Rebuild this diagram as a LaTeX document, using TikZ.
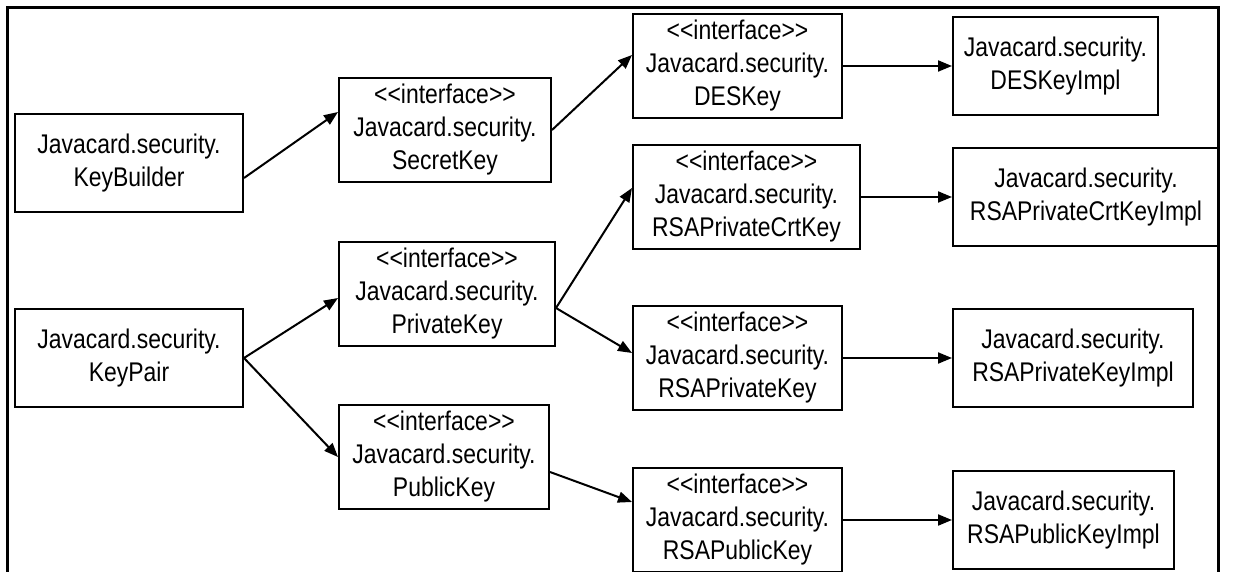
\documentclass[tikz,border=0pt]{standalone}
\usepackage{fontspec}
\setmainfont{Liberation Sans}[FakeStretch=0.85, Ligatures=TeXOff]
\usetikzlibrary{arrows.meta,positioning}

\begin{document}
\begin{tikzpicture}[x=0.5pt, y=-0.5pt, line width=1pt,
    box/.style={draw, anchor=west, align=center, minimum height=49pt, inner xsep=4pt,
        font=\fontsize{13.5}{16.5}\selectfont},
    link/.style={-{Triangle[length=7pt,width=5.5pt]}}]
    \useasboundingbox (0,0) rectangle (1236,572);
    \draw[line width=1.5pt] (7,572) -- (7,8) -- (1218,8) -- (1218,572);

    % first column
    \node[box, minimum width=114pt] (keyBuilder) at (14,163) {Javacard.security.\\KeyBuilder};
    \node[box, minimum width=114pt] (keyPair) at (14,358) {Javacard.security.\\KeyPair};

    % second column
    \node[box, minimum width=106pt] (secretKey) at (338,130) {<<interface>>\\Javacard.security.\\SecretKey};
    \node[box, minimum width=108pt] (privateKey) at (338,294) {<<interface>>\\Javacard.security.\\PrivateKey};
    \node[box, minimum width=105pt] (publicKey) at (338,457) {<<interface>>\\Javacard.security.\\PublicKey};

    % third column
    \node[box, minimum width=104.5pt] (desKey) at (632,66) {<<interface>>\\Javacard.security.\\DESKey};
    \node[box, minimum width=113.5pt] (rsaPrivateCrtKey) at (632,197) {<<interface>>\\Javacard.security.\\RSAPrivateCrtKey};
    \node[box, minimum width=104.5pt] (rsaPrivateKey) at (632,358) {<<interface>>\\Javacard.security.\\RSAPrivateKey};
    \node[box, minimum width=104.5pt] (rsaPublicKey) at (632,520) {<<interface>>\\Javacard.security.\\RSAPublicKey};

    % fourth column
    \node[box, minimum width=102.5pt] (desKeyImpl) at (952,66) {Javacard.security.\\DESKeyImpl};
    \node[box, minimum width=133pt] (rsaPrivateCrtKeyImpl) at (952,197) {Javacard.security.\\RSAPrivateCrtKeyImpl};
    \node[box, minimum width=120pt] (rsaPrivateKeyImpl) at (952,358) {Javacard.security.\\RSAPrivateKeyImpl};
    \node[box, minimum width=110.5pt] (rsaPublicKeyImpl) at (952,520) {Javacard.security.\\RSAPublicKeyImpl};

    \draw[link] ([yshift=-7.5pt]keyBuilder.east) -- ([yshift=9pt]secretKey.west);
    \draw[link] (keyPair.east) -- ([yshift=-2pt]privateKey.west);
    \draw[link] (keyPair.east) -- (publicKey.west);
    \draw[link] (secretKey.east) -- ([yshift=5.5pt]desKey.west);
    \draw[link] ([yshift=-7pt]privateKey.east) -- ([yshift=4.5pt]rsaPrivateCrtKey.west);
    \draw[link] ([yshift=-7pt]privateKey.east) -- ([yshift=2.5pt]rsaPrivateKey.west);
    \draw[link] ([yshift=-7.5pt]publicKey.east) -- ([yshift=9pt]rsaPublicKey.west);

    \draw[link] (desKey) -- (desKeyImpl);
    \draw[link] (rsaPrivateCrtKey) -- (rsaPrivateCrtKeyImpl);
    \draw[link] (rsaPrivateKey) -- (rsaPrivateKeyImpl);
    \draw[link] (rsaPublicKey) -- (rsaPublicKeyImpl);
\end{tikzpicture}
\end{document}
